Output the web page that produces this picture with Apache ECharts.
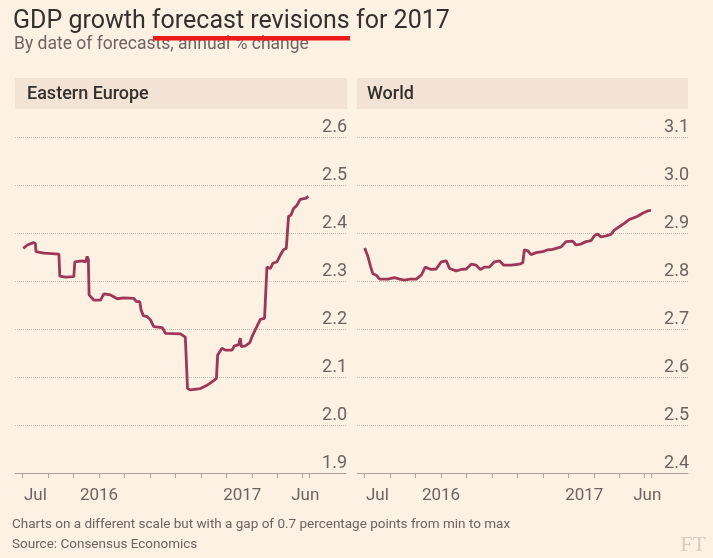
<!DOCTYPE html>
<html>
<head>
<meta charset="utf-8">
<title>GDP growth forecast revisions for 2017</title>
<script src="https://cdn.jsdelivr.net/npm/echarts@6/dist/echarts.min.js"></script>
<style>
  html, body { margin: 0; padding: 0; background: #fdf1e4; }
  #chart { width: 713px; height: 558px; }
</style>
</head>
<body>
<div id="chart"></div>
<script>
// Forecast date, in months since 1 July 2015
const eeMonths = [
  0.05, 0.37, 0.84, 1.00, 1.05, 1.67, 2.85, 2.92, 3.37, 4.02, 4.10, 4.68, 4.94, 5.07, 5.16,
  5.22, 5.60, 6.12, 6.38, 6.90, 7.43, 7.95, 8.73, 8.94, 9.20, 9.30, 9.47, 9.78, 10.04, 10.30,
  10.96, 11.22, 12.39, 12.78, 12.88, 12.95, 13.18, 13.96, 14.49, 14.88, 15.22, 15.32, 15.66,
  15.92, 16.45, 16.63, 16.96, 17.10, 17.18, 17.49, 17.83, 18.02, 18.27, 18.53, 18.67, 19.00,
  19.10, 19.19, 19.45, 19.66, 19.98, 20.24, 20.49, 20.71, 20.80, 20.89, 21.07, 21.28, 21.55,
  21.80, 22.20, 22.45
];
// Eastern Europe: consensus 2017 GDP growth forecast, %
const eeValues = [
  2.368, 2.375, 2.380, 2.378, 2.361, 2.358, 2.356, 2.310, 2.308, 2.309, 2.340, 2.342, 2.340, 2.351, 2.345,
  2.271, 2.260, 2.260, 2.273, 2.271, 2.263, 2.265, 2.264, 2.257, 2.257, 2.240, 2.228, 2.226, 2.219, 2.205,
  2.203, 2.191, 2.190, 2.183, 2.181, 2.076, 2.073, 2.076, 2.083, 2.090, 2.097, 2.146, 2.160,
  2.156, 2.156, 2.165, 2.167, 2.181, 2.163, 2.165, 2.171, 2.184, 2.198, 2.212, 2.220, 2.222,
  2.222, 2.329, 2.326, 2.337, 2.340, 2.354, 2.365, 2.368, 2.370, 2.435, 2.437, 2.451, 2.458,
  2.470, 2.472, 2.476
];
const worldMonths = [
  0, 0.26, 0.47, 0.65, 0.92, 1.18, 1.83, 2.35, 2.75, 3.14, 3.53, 4.05, 4.45, 4.76, 5.23, 5.62,
  6.02, 6.41, 6.67, 7.19, 7.58, 7.98, 8.37, 8.76, 9.10, 9.41, 9.80, 10.20, 10.59, 10.93, 11.51,
  12.16, 12.42, 12.55, 12.81, 13.07, 13.47, 13.98, 14.38, 14.77, 15.43, 15.82, 16.34, 16.60,
  16.99, 17.39, 17.78, 18.04, 18.30, 18.56, 18.96, 19.35, 19.61, 20.00, 20.39, 20.78, 21.18,
  21.44, 21.83, 22.22, 22.49
];
// World: consensus 2017 GDP growth forecast, %
const worldValues = [
  2.869, 2.851, 2.830, 2.815, 2.812, 2.804, 2.804, 2.807, 2.804, 2.802, 2.804, 2.804, 2.812, 2.829, 2.824, 2.825,
  2.840, 2.842, 2.826, 2.821, 2.824, 2.825, 2.835, 2.833, 2.824, 2.829, 2.829, 2.840, 2.842, 2.833, 2.833,
  2.835, 2.838, 2.865, 2.863, 2.855, 2.859, 2.861, 2.865, 2.866, 2.871, 2.882, 2.883, 2.875,
  2.877, 2.882, 2.884, 2.894, 2.898, 2.892, 2.894, 2.897, 2.906, 2.913, 2.920, 2.928, 2.932,
  2.935, 2.941, 2.946, 2.947
];

const panelNames = ['Eastern Europe', 'World'];
const eeRange = [1.9, 2.6];
const worldRange = [2.4, 3.1];

// x-axis ticks and labels (months since 1 July 2015)
const tickMonths = [0, 2, 4, 6, 8, 10, 12, 14, 16, 18, 20, 22, 22.5];
const xLabelMonths = [1, 6, 17.25, 22.2];
const xLabelText = ['Jul', '2016', '2017', 'Jun'];

const FONT = 'Roboto, "Noto Sans", sans-serif';
const INK = '#33302e';
const GREY = '#6b6460';
const LINE = '#9e3657';
const BAND = '#f2e3d4';

function xAxisFor(gridIndex) {
  return {
    type: 'value', gridIndex, min: -0.6, max: 25.4,
    axisLine: { show: true, lineStyle: { color: '#aaa29a', width: 1 } },
    axisTick: { show: true, customValues: tickMonths, length: 5, lineStyle: { color: '#aaa29a' } },
    axisLabel: {
      customValues: xLabelMonths, margin: 14,
      fontFamily: FONT, fontSize: 17, color: GREY,
      formatter: v => {
        let best = 0;
        xLabelMonths.forEach((m, i) => { if (Math.abs(m - v) < Math.abs(xLabelMonths[best] - v)) best = i; });
        return xLabelText[best];
      }
    },
    splitLine: { show: false }
  };
}

function yAxisFor(gridIndex, range) {
  return {
    type: 'value', gridIndex, position: 'right',
    min: range[0], max: range[1], interval: 0.1,
    axisLine: { show: false }, axisTick: { show: false },
    axisLabel: {
      inside: true, margin: -1, align: 'right', verticalAlign: 'bottom',
      padding: [0, 0, 1, 0],
      fontFamily: FONT, fontSize: 18, color: GREY,
      formatter: v => v.toFixed(1)
    },
    splitLine: { show: true, lineStyle: { color: '#c6baad', type: [1, 1], width: 1 } }
  };
}

const chart = echarts.init(document.getElementById('chart'), null, { renderer: 'canvas' });
chart.setOption({
  backgroundColor: '#fdf1e4',
  animation: false,
  grid: [
    { left: 15, top: 137, width: 331, height: 336 },
    { left: 357, top: 137, width: 331, height: 336 }
  ],
  xAxis: [xAxisFor(0), xAxisFor(1)],
  yAxis: [yAxisFor(0, eeRange), yAxisFor(1, worldRange)],
  series: [
    {
      name: panelNames[0], type: 'line', xAxisIndex: 0, yAxisIndex: 0,
      data: eeMonths.map((m, i) => [m, eeValues[i]]),
      showSymbol: false, lineStyle: { color: LINE, width: 2.8 }, z: 5
    },
    {
      name: panelNames[1], type: 'line', xAxisIndex: 1, yAxisIndex: 1,
      data: worldMonths.map((m, i) => [m, worldValues[i]]),
      showSymbol: false, lineStyle: { color: LINE, width: 2.8 }, z: 5
    }
  ],
  graphic: [
    // panel header bands
    { type: 'rect', shape: { x: 15, y: 78, width: 332, height: 31 }, style: { fill: BAND }, z: 0 },
    { type: 'rect', shape: { x: 357, y: 78, width: 331, height: 31 }, style: { fill: BAND }, z: 0 },
    { type: 'text', x: 27, y: 94, style: { text: panelNames[0], font: '500 18px ' + FONT, fill: INK, textVerticalAlign: 'middle' } },
    { type: 'text', x: 367, y: 94, style: { text: panelNames[1], font: '500 18px ' + FONT, fill: INK, textVerticalAlign: 'middle' } },
    // headline, with the red highlight under "forecast revisions", and subtitle
    { type: 'text', x: 13, y: 21.5, style: { text: 'GDP growth forecast revisions for 2017', font: '25px ' + FONT, fill: INK, textVerticalAlign: 'middle' } },
    { type: 'rect', shape: { x: 153, y: 36, width: 197, height: 4.5 }, style: { fill: '#ee1a1a' }, z: 10 },
    { type: 'text', x: 14, y: 45, style: { text: 'By date of forecasts, annual % change', font: '17.5px ' + FONT, fill: GREY, textVerticalAlign: 'middle' } },
    // notes
    { type: 'text', x: 12, y: 525, style: { text: 'Charts on a different scale but with a gap of 0.7 percentage points from min to max', font: '13.5px ' + FONT, fill: GREY, textVerticalAlign: 'middle' } },
    { type: 'text', x: 12, y: 545, style: { text: 'Source: Consensus Economics', font: '13.5px ' + FONT, fill: GREY, textVerticalAlign: 'middle' } },
    { type: 'text', x: 706, y: 545, style: { text: 'FT', font: '22px "Liberation Serif", "DejaVu Serif", serif', fill: '#d9cdc0', textAlign: 'right', textVerticalAlign: 'middle' } }
  ]
});
</script>
</body>
</html>
